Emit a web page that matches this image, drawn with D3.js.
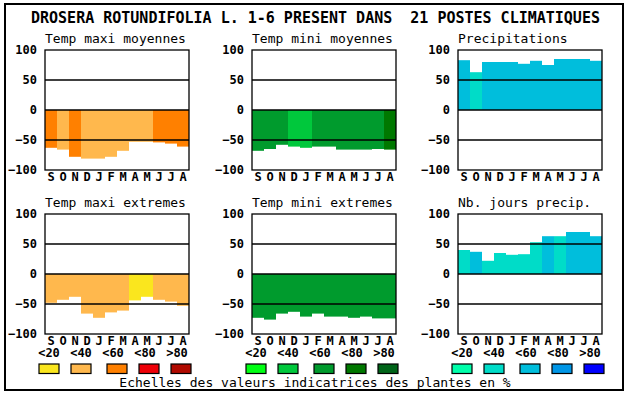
<!DOCTYPE html>
<html lang="fr">
<head>
    <meta charset="UTF-8">
    <title>Drosera rotundifolia - postes climatiques</title>
    <script src="https://d3js.org/d3.v7.min.js"></script>
    <style>
        body { margin: 0; background: white; }
        svg text { font-family: "DejaVu Sans Mono", "Liberation Mono", monospace; }
    </style>
</head>
<body>
    <svg width="630" height="394"></svg>
    <script>
        // Months (September -> August) and tick labels
        const months = ["S", "O", "N", "D", "J", "F", "M", "A", "M", "J", "J", "A"];
        const tickValues = [-100, -50, 0, 50, 100];
        const gridValues = [-50, 0, 50];
        const classLabels = ["<20", "<40", "<60", "<80", ">80"];

        // Colour scales for indicator classes
        const orangeScale = ["#fae61e", "#ffb84d", "#ff8000", "#ee0008", "#b00a00"];
        const greenScale = ["#00ff14", "#00c83c", "#009b2d", "#007800", "#006419"];
        const blueScale = ["#00ffaa", "#00dcc8", "#00bedc", "#0096e6", "#0000ff"];

        const tmaxMoyValues = [-63, -66, -78, -81, -81, -78, -68, -53, -53, -54, -56, -61];
        const tmaxMoyClasses = [2, 1, 2, 1, 1, 1, 1, 1, 1, 2, 2, 2];
        const tminMoyValues = [-68, -65, -58, -61, -63, -61, -61, -66, -66, -66, -65, -66];
        const tminMoyClasses = [2, 2, 2, 1, 1, 2, 2, 2, 2, 2, 2, 3];
        const precipValues = [83, 63, 80, 80, 80, 77, 82, 75, 85, 85, 85, 82];
        const precipClasses = [2, 1, 2, 2, 2, 2, 2, 2, 2, 2, 2, 2];
        const tmaxExtValues = [-48, -43, -38, -66, -73, -64, -61, -44, -38, -43, -46, -53];
        const tmaxExtClasses = [1, 1, 1, 1, 1, 1, 1, 0, 0, 1, 1, 1];
        const tminExtValues = [-73, -76, -66, -63, -71, -66, -71, -71, -73, -71, -74, -74];
        const tminExtClasses = [2, 2, 2, 2, 2, 2, 2, 2, 2, 2, 2, 2];
        const nbJoursValues = [40, 37, 22, 35, 32, 33, 53, 63, 63, 70, 70, 63];
        const nbJoursClasses = [1, 2, 1, 1, 1, 1, 1, 2, 1, 2, 2, 2];

        const mainTitle = "DROSERA ROTUNDIFOLIA L. 1-6 PRESENT DANS  21 POSTES CLIMATIQUES";
        const footer = "Echelles des valeurs indicatrices des plantes en %";

        const svg = d3.select("svg");

        // Layout of the six small panels
        const colLeft = [45, 252, 458];
        const rowTop = [50, 214];
        const pw = 144, ph = 120;

        const panels = [
            {title: "Temp maxi moyennes", values: tmaxMoyValues, classes: tmaxMoyClasses, colors: orangeScale, col: 0, row: 0},
            {title: "Temp mini moyennes", values: tminMoyValues, classes: tminMoyClasses, colors: greenScale, col: 1, row: 0},
            {title: "Precipitations", values: precipValues, classes: precipClasses, colors: blueScale, col: 2, row: 0},
            {title: "Temp maxi extremes", values: tmaxExtValues, classes: tmaxExtClasses, colors: orangeScale, col: 0, row: 1},
            {title: "Temp mini extremes", values: tminExtValues, classes: tminExtClasses, colors: greenScale, col: 1, row: 1},
            {title: "Nb. jours precip.", values: nbJoursValues, classes: nbJoursClasses, colors: blueScale, col: 2, row: 1}
        ];

        // Outer frame
        svg.append("rect")
            .attr("x", 5).attr("y", 4)
            .attr("width", 618).attr("height", 386)
            .attr("fill", "none").attr("stroke", "black").attr("stroke-width", 2);

        // Main title
        svg.append("text")
            .attr("x", 31).attr("y", 18)
            .attr("dy", "0.35em")
            .style("font-size", "15px")
            .style("font-weight", "bold")
            .style("white-space", "pre")
            .attr("xml:space", "preserve")
            .text(mainTitle);

        panels.forEach(p => {
            const left = colLeft[p.col], top = rowTop[p.row];
            const g = svg.append("g").attr("transform", `translate(${left},${top})`);

            const x = d3.scaleBand().domain(d3.range(12)).range([0, pw]);
            const y = d3.scaleLinear().domain([-100, 100]).range([ph, 0]);

            // Bars from zero
            g.selectAll("rect.bar")
                .data(p.values)
                .enter()
                .append("rect")
                .attr("class", "bar")
                .attr("x", (d, i) => x(i))
                .attr("width", x.bandwidth())
                .attr("y", d => y(Math.max(0, d)))
                .attr("height", d => Math.abs(y(d) - y(0)))
                .attr("fill", (d, i) => p.colors[p.classes[i]]);

            // Grid lines on top of bars
            g.selectAll("line.grid")
                .data(gridValues)
                .enter()
                .append("line")
                .attr("x1", 0).attr("x2", pw)
                .attr("y1", d => y(d)).attr("y2", d => y(d))
                .attr("stroke", "black").attr("stroke-width", 1.3);

            // Frame
            g.append("rect")
                .attr("width", pw).attr("height", ph)
                .attr("fill", "none").attr("stroke", "black").attr("stroke-width", 1.3);

            // Y axis labels
            const yAxis = g.append("g")
                .call(d3.axisLeft(y).tickValues(tickValues).tickSize(0).tickPadding(8));
            yAxis.select(".domain").remove();
            yAxis.selectAll("text")
                .style("font-family", "DejaVu Sans Mono, monospace")
                .style("font-size", "12px")
                .style("font-weight", "bold")
                .attr("fill", "black");

            // Month labels
            const xAxis = g.append("g")
                .attr("transform", `translate(0,${ph})`)
                .call(d3.axisBottom(x).tickFormat(i => months[i]).tickSize(0).tickPadding(2));
            xAxis.select(".domain").remove();
            xAxis.selectAll("text")
                .style("font-family", "DejaVu Sans Mono, monospace")
                .style("font-size", "12px")
                .style("font-weight", "bold")
                .attr("fill", "black");

            // Panel title
            g.append("text")
                .attr("x", 0).attr("y", -12)
                .attr("dy", "0.35em")
                .style("font-size", "13px")
                .text(p.title);
        });

        // Legends under each column
        const labelOffsets = [4, 36, 68, 100, 132];
        const boxOffsets = [-6, 26, 62, 94, 126];
        [orangeScale, greenScale, blueScale].forEach((colors, c) => {
            const left = colLeft[c];
            svg.selectAll(null)
                .data(classLabels)
                .enter()
                .append("text")
                .attr("x", (d, i) => left + labelOffsets[i])
                .attr("y", 353)
                .attr("dy", "0.35em")
                .attr("text-anchor", "middle")
                .style("font-size", "12px")
                .style("font-weight", "bold")
                .text(d => d);

            svg.selectAll(null)
                .data(colors)
                .enter()
                .append("rect")
                .attr("x", (d, i) => left + boxOffsets[i])
                .attr("y", 364)
                .attr("width", 20).attr("height", 9.5)
                .attr("fill", d => d)
                .attr("stroke", "black").attr("stroke-width", 1.2);
        });

        // Footer
        svg.append("text")
            .attr("x", 315).attr("y", 382)
            .attr("dy", "0.35em")
            .attr("text-anchor", "middle")
            .style("font-size", "13px")
            .text(footer);
    </script>
</body>
</html>
